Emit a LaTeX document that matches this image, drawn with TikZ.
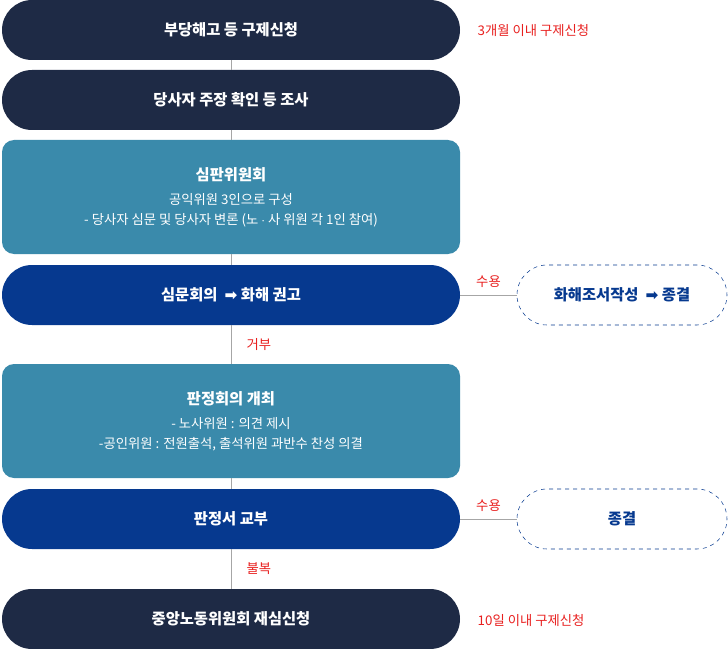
\documentclass[tikz,border=0pt]{standalone}
\usepackage{fontspec}
\setmainfont{Noto Sans CJK KR}
\newfontfamily\symfont{DejaVu Sans}
\usetikzlibrary{positioning}
\definecolor{navy}{HTML}{1E2A45}
\definecolor{teal}{HTML}{3A8AAB}
\definecolor{royal}{HTML}{06398F}
\definecolor{redtxt}{HTML}{E8201F}
\tikzstyle{pill}=[rounded corners=30*0.75pt, minimum width=458*0.75pt, minimum height=60*0.75pt, text=white, font=\fontsize{11.5}{14}\selectfont\bfseries]
\tikzstyle{navybox}=[pill, fill=navy]
\tikzstyle{royalbox}=[pill, fill=royal]
\tikzstyle{tealbox}=[rounded corners=9pt, fill=teal, minimum width=458*0.75pt, minimum height=114*0.75pt, text=white, align=center, font=\fontsize{10}{15}\selectfont]
\tikzstyle{endbox}=[draw=royal, dashed, rounded corners=30*0.75pt, minimum width=210*0.75pt, minimum height=60*0.75pt, text=royal, font=\fontsize{11.5}{14}\selectfont\bfseries]
\tikzstyle{note}=[text=redtxt, font=\fontsize{10}{12}\selectfont]
\tikzstyle{link}=[draw=gray!70, line width=0.6pt]
\newcommand{\arr}{{\symfont\char"27A1}}
\begin{document}
\begin{tikzpicture}[x=0.75pt, y=-0.75pt]
\useasboundingbox (0,0) rectangle (728,649);
\node[navybox] (apply)  at (231,30)  {부당해고 등 구제신청};
\node[navybox] (survey) at (231,100) {당사자 주장 확인 등 조사};
\node[tealbox] (panel)  at (231,197) {{\fontsize{11.5}{14}\selectfont\bfseries 심판위원회}\\[3pt]공익위원 3인으로 구성\\- 당사자 심문 및 당사자 변론 (노 $\cdot$ 사 위원 각 1인 참여)};
\node[royalbox] (hearing) at (231,295) {심문회의 \ \arr\ 화해 권고};
\node[tealbox] (judge)  at (231,421) {{\fontsize{11.5}{14}\selectfont\bfseries 판정회의 개최}\\[3pt]- 노사위원 : 의견 제시\\-공인위원 : 전원출석, 출석위원 과반수 찬성 의결};
\node[royalbox] (issue) at (231,519) {판정서 교부};
\node[navybox] (review) at (231,619) {중앙노동위원회 재심신청};
\node[endbox] (settle) at (622,295) {화해조서작성 \ \arr\ 종결};
\node[endbox] (close)  at (622,519) {종결};
\node[note, anchor=west] (n1) at (473,30) {3개월 이내 구제신청};
\node[note, anchor=west] (n2) at (473,620) {10일 이내 구제신청};
\draw[link] (apply)--(survey);
\draw[link] (survey)--(panel);
\draw[link] (panel)--(hearing);
\draw[link] (hearing)--(judge) node[midway, note, right=8pt] {거부};
\draw[link] (judge)--(issue);
\draw[link] (issue)--(review) node[midway, note, right=8pt] {불복};
\draw[link] (hearing)--(settle) node[midway, note, above=2pt] {수용};
\draw[link] (issue)--(close) node[midway, note, above=2pt] {수용};
\end{tikzpicture}
\end{document}
